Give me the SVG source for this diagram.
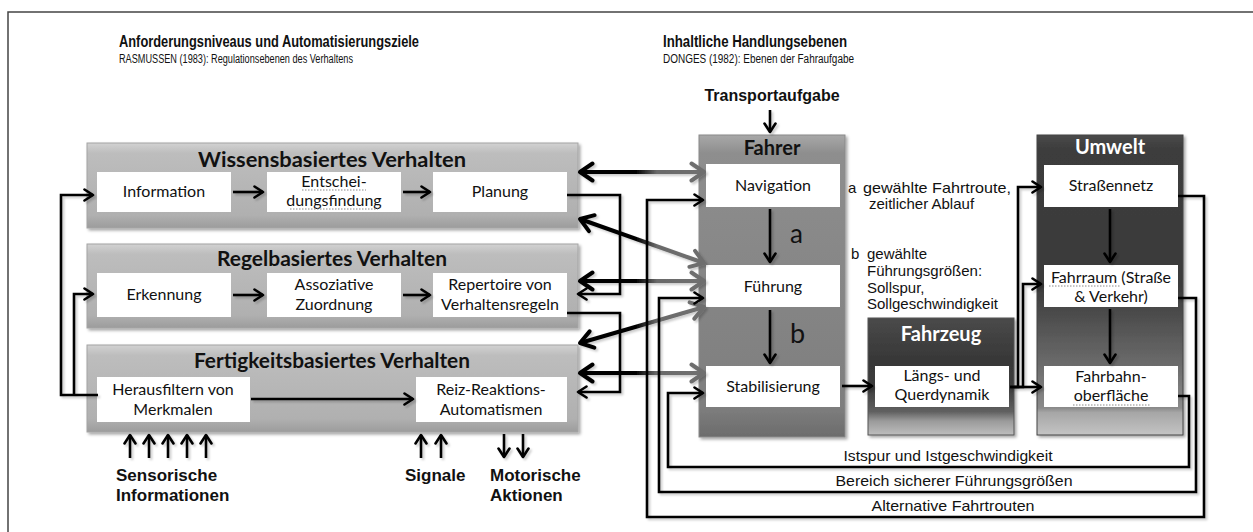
<svg xmlns="http://www.w3.org/2000/svg" width="1253" height="532" viewBox="0 0 1253 532">
<style>
.ttl{font-family:"Liberation Sans",Arial,sans-serif;font-weight:bold;fill:#111}
.sub{font-family:"Liberation Sans",Arial,sans-serif;fill:#111}
.bt{font-family:Lato,"Open Sans",sans-serif;font-weight:bold;font-size:20px;fill:#111;text-anchor:middle}
.bw{font-family:Lato,"Open Sans",sans-serif;font-weight:bold;font-size:20px;fill:#fff;text-anchor:middle}
.it{font-family:Lato,"Open Sans",sans-serif;font-size:16px;fill:#111;text-anchor:middle}
.ann{font-family:"Liberation Sans",Arial,sans-serif;font-size:15px;fill:#111}
.lab{font-family:"Liberation Sans",Arial,sans-serif;font-size:15px;fill:#111;text-anchor:middle}
.big{font-family:"Liberation Sans",Arial,sans-serif;font-weight:bold;font-size:17px;fill:#111}
.ib{fill:#fff}
.ln{fill:none;stroke:#000;stroke-width:2.6;stroke-linejoin:miter}
.thk{fill:none;stroke:url(#gArr);stroke-width:4}
.sq{fill:none;stroke:#888;stroke-width:1;stroke-dasharray:1.5 1.5}
</style>
<defs>
<linearGradient id="gR" x1="0" y1="0" x2="0" y2="1">
<stop offset="0" stop-color="#d2d2d2"/><stop offset="0.12" stop-color="#bdbdbd"/><stop offset="0.85" stop-color="#b0b0b0"/><stop offset="1" stop-color="#9c9c9c"/>
</linearGradient>
<linearGradient id="gF" x1="0" y1="0" x2="0" y2="1">
<stop offset="0" stop-color="#a8a8a8"/><stop offset="0.06" stop-color="#8e8e8e"/><stop offset="0.9" stop-color="#7e7e7e"/><stop offset="1" stop-color="#6c6c6c"/>
</linearGradient>
<linearGradient id="gZ" x1="0" y1="0" x2="0" y2="1">
<stop offset="0" stop-color="#4a4a4a"/><stop offset="0.35" stop-color="#383838"/><stop offset="0.6" stop-color="#3c3c3c"/><stop offset="0.8" stop-color="#606060"/><stop offset="0.88" stop-color="#9a9a9a"/><stop offset="1" stop-color="#bdbdbd"/>
</linearGradient>
<linearGradient id="gU" x1="0" y1="0" x2="0" y2="1">
<stop offset="0" stop-color="#4a4a4a"/><stop offset="0.05" stop-color="#3c3c3c"/><stop offset="0.5" stop-color="#3a3a3a"/><stop offset="0.76" stop-color="#6a6a6a"/><stop offset="0.91" stop-color="#8a8a8a"/><stop offset="0.925" stop-color="#a6a6a6"/><stop offset="1" stop-color="#c4c4c4"/>
</linearGradient>
<linearGradient id="gArr" gradientUnits="userSpaceOnUse" x1="580" y1="0" x2="704" y2="0">
<stop offset="0.45" stop-color="#000"/><stop offset="0.62" stop-color="#6a6a6a"/><stop offset="1" stop-color="#707070"/>
</linearGradient>
<filter id="sh" x="-5%" y="-5%" width="112%" height="115%">
<feDropShadow dx="2" dy="2" stdDeviation="1.5" flood-color="#000" flood-opacity="0.35"/>
</filter>
<filter id="lsh" x="-5%" y="-5%" width="110%" height="110%">
<feDropShadow dx="2" dy="2" stdDeviation="0.8" flood-color="#000" flood-opacity="0.2"/>
</filter>
<marker id="ah" viewBox="0 0 12 14" refX="10" refY="7" markerWidth="12" markerHeight="14" markerUnits="userSpaceOnUse" orient="auto-start-reverse">
<path d="M1.5,1.5 L10,7 L1.5,12.5" fill="none" stroke="#000" stroke-width="2.6" stroke-linecap="round" stroke-linejoin="round"/>
</marker>
<marker id="ahB" viewBox="0 0 18 22" refX="15" refY="11" markerWidth="18" markerHeight="22" markerUnits="userSpaceOnUse" orient="auto-start-reverse">
<path d="M2.5,2.5 L15,11 L2.5,19.5" fill="none" stroke="#000" stroke-width="4" stroke-linecap="round" stroke-linejoin="round"/>
</marker>
<marker id="ahG" viewBox="0 0 18 22" refX="15" refY="11" markerWidth="18" markerHeight="22" markerUnits="userSpaceOnUse" orient="auto-start-reverse">
<path d="M2.5,2.5 L15,11 L2.5,19.5" fill="none" stroke="#6e6e6e" stroke-width="4" stroke-linecap="round" stroke-linejoin="round"/>
</marker>
</defs>

<rect width="1253" height="532" fill="#fff"/>
<path d="M8,532 V12 H1253" fill="none" stroke="#444" stroke-width="1.5"/>

<g id="headings">
<text class="ttl" x="119" y="47" font-size="16.5" textLength="300" lengthAdjust="spacingAndGlyphs">Anforderungsniveaus und Automatisierungsziele</text>
<text class="sub" x="119" y="63" font-size="12" textLength="234" lengthAdjust="spacingAndGlyphs">RASMUSSEN (1983): Regulationsebenen des Verhaltens</text>
<text class="ttl" x="663" y="47" font-size="16.5" textLength="184" lengthAdjust="spacingAndGlyphs">Inhaltliche Handlungsebenen</text>
<text class="sub" x="663" y="63" font-size="12" textLength="191" lengthAdjust="spacingAndGlyphs">DONGES (1982): Ebenen der Fahraufgabe</text>
</g>

<g id="wissensbasiert">
<rect x="87" y="143" width="491" height="85" fill="url(#gR)" stroke="#a4a4a4" filter="url(#sh)"/>
<text class="bt" x="332" y="167" textLength="268" lengthAdjust="spacingAndGlyphs">Wissensbasiertes Verhalten</text>
<rect class="ib" x="97" y="172" width="134" height="40"/>
<text class="it" x="164" y="197">Information</text>
<rect class="ib" x="267" y="172" width="134" height="40"/>
<text class="it" x="334" y="187">Entschei-</text>
<text class="it" x="334" y="206">dungsfindung</text>
<path class="sq" d="M302,190 H366 M290,209 H378"/>
<rect class="ib" x="433" y="172" width="134" height="40"/>
<text class="it" x="500" y="197">Planung</text>
</g>

<g id="regelbasiert">
<rect x="87" y="244" width="491" height="84" fill="url(#gR)" stroke="#a4a4a4" filter="url(#sh)"/>
<text class="bt" x="332" y="266" textLength="230" lengthAdjust="spacingAndGlyphs">Regelbasiertes Verhalten</text>
<rect class="ib" x="97" y="273" width="134" height="44"/>
<text class="it" x="164" y="300">Erkennung</text>
<rect class="ib" x="267" y="273" width="134" height="44"/>
<text class="it" x="334" y="290">Assoziative</text>
<text class="it" x="334" y="310">Zuordnung</text>
<rect class="ib" x="433" y="273" width="134" height="44"/>
<text class="it" x="500" y="290">Repertoire von</text>
<text class="it" x="500" y="310">Verhaltensregeln</text>
</g>

<g id="fertigkeitsbasiert">
<rect x="87" y="345" width="491" height="87" fill="url(#gR)" stroke="#a4a4a4" filter="url(#sh)"/>
<text class="bt" x="332" y="368" textLength="276" lengthAdjust="spacingAndGlyphs">Fertigkeitsbasiertes Verhalten</text>
<rect class="ib" x="97" y="377" width="153" height="45"/>
<text class="it" x="173" y="395">Herausfiltern von</text>
<text class="it" x="173" y="415">Merkmalen</text>
<rect class="ib" x="416" y="377" width="151" height="45"/>
<text class="it" x="491" y="395">Reiz-Reaktions-</text>
<text class="it" x="491" y="415">Automatismen</text>
</g>

<g id="fahrer">
<rect x="699" y="135" width="146" height="302" fill="url(#gF)" stroke="#8a8a8a" filter="url(#sh)"/>
<text class="bt" x="772" y="155">Fahrer</text>
<rect class="ib" x="706" y="164" width="134" height="43"/>
<text class="it" x="773" y="191">Navigation</text>
<rect class="ib" x="706" y="265" width="134" height="42"/>
<text class="it" x="773" y="292">Führung</text>
<rect class="ib" x="706" y="366" width="134" height="41"/>
<text class="it" x="773" y="392">Stabilisierung</text>
<text x="790" y="243" font-family="Lato,'Open Sans',sans-serif" font-size="26" fill="#111">a</text>
<text x="790" y="343" font-family="Lato,'Open Sans',sans-serif" font-size="27" fill="#111">b</text>
</g>

<g id="fahrzeug">
<rect x="868" y="318" width="146" height="117" fill="url(#gZ)" stroke="#555" filter="url(#sh)"/>
<text class="bw" x="941" y="341">Fahrzeug</text>
<rect class="ib" x="875" y="366" width="134" height="41"/>
<text class="it" x="942" y="381">Längs- und</text>
<text class="it" x="942" y="400">Querdynamik</text>
</g>

<g id="umwelt">
<rect x="1037" y="135" width="146" height="300" fill="url(#gU)" stroke="#444" filter="url(#sh)"/>
<text class="bw" x="1110" y="154">Umwelt</text>
<rect class="ib" x="1044" y="165" width="134" height="42"/>
<text class="it" x="1111" y="191">Straßennetz</text>
<rect class="ib" x="1044" y="265" width="134" height="42"/>
<text class="it" x="1111" y="283">Fahrraum (Straße</text>
<text class="it" x="1111" y="302">&amp; Verkehr)</text>
<path class="sq" d="M1049,286 H1120"/>
<rect class="ib" x="1044" y="366" width="134" height="41"/>
<text class="it" x="1111" y="382">Fahrbahn-</text>
<text class="it" x="1111" y="401">oberfläche</text>
<path class="sq" d="M1073,405 H1150"/>
</g>

<g id="annotations">
<text class="ttl" x="772" y="101" font-size="16" text-anchor="middle">Transportaufgabe</text>
<text class="ann" x="848" y="193">a</text>
<text class="ann" x="863" y="193" textLength="148" lengthAdjust="spacingAndGlyphs">gewählte Fahrtroute,</text>
<text class="ann" x="869" y="209">zeitlicher Ablauf</text>
<text class="ann" x="851" y="259">b</text>
<text class="ann" x="867" y="259">gewählte</text>
<text class="ann" x="867" y="276">Führungsgrößen:</text>
<text class="ann" x="867" y="293">Sollspur,</text>
<text class="ann" x="867" y="309">Sollgeschwindigkeit</text>
<text class="lab" x="948" y="461" textLength="209" lengthAdjust="spacingAndGlyphs">Istspur und Istgeschwindigkeit</text>
<text class="lab" x="954" y="486" textLength="237" lengthAdjust="spacingAndGlyphs">Bereich sicherer Führungsgrößen</text>
<text class="lab" x="953" y="511" textLength="163" lengthAdjust="spacingAndGlyphs">Alternative Fahrtrouten</text>
<text class="big" x="116" y="481">Sensorische</text>
<text class="big" x="116" y="501">Informationen</text>
<text class="big" x="405" y="481">Signale</text>
<text class="big" x="490" y="481">Motorische</text>
<text class="big" x="490" y="501">Aktionen</text>
</g>

<g id="connectors" filter="url(#lsh)">
<path class="ln" d="M233,192 H263" marker-end="url(#ah)"/>
<path class="ln" d="M403,192 H430" marker-end="url(#ah)"/>
<path class="ln" d="M233,295 H263" marker-end="url(#ah)"/>
<path class="ln" d="M403,295 H430" marker-end="url(#ah)"/>
<path class="ln" d="M251,399 H413" marker-end="url(#ah)"/>
<path class="ln" d="M98,395 H61 V195 H93" marker-end="url(#ah)"/>
<path class="ln" d="M74,395 V294 H93" marker-end="url(#ah)"/>
<path class="thk" d="M580,172 L704,172.01" marker-start="url(#ahB)" marker-end="url(#ahG)"/>
<path class="thk" d="M580,219 L704,263" marker-start="url(#ahB)" marker-end="url(#ahG)"/>
<path class="thk" d="M580,281 L704,281.01" marker-start="url(#ahB)" marker-end="url(#ahG)"/>
<path class="thk" d="M580,343 L704,307" marker-start="url(#ahB)" marker-end="url(#ahG)"/>
<path class="thk" d="M580,373 L704,373.01" marker-start="url(#ahB)" marker-end="url(#ahG)"/>
<path class="ln" d="M567,195 H620 V294 H578" marker-end="url(#ah)"/>
<path class="ln" d="M567,313 H620 V392 H578" marker-end="url(#ah)"/>
<path class="ln" d="M770,110 V132" marker-end="url(#ah)"/>
<path class="ln" d="M770,209 V262" marker-end="url(#ah)"/>
<path class="ln" d="M770,310 V363" marker-end="url(#ah)"/>
<path class="ln" d="M842,386 H872" marker-end="url(#ah)"/>
<path class="ln" d="M1010,387 H1041" marker-end="url(#ah)"/>
<path class="ln" d="M1010,387 H1018 V187 H1041" marker-end="url(#ah)"/>
<path class="ln" d="M1014,387 H1023 V284 H1041" marker-end="url(#ah)"/>
<path class="ln" d="M1110,209 V262" marker-end="url(#ah)"/>
<path class="ln" d="M1110,309 V363" marker-end="url(#ah)"/>
<path class="ln" d="M1178,196 H1204 V517 H647 V200 H703" marker-end="url(#ah)"/>
<path class="ln" d="M1178,298 H1196 V492 H659 V298 H703" marker-end="url(#ah)"/>
<path class="ln" d="M1178,396 H1189 V467 H668 V393 H703" marker-end="url(#ah)"/>
<path class="ln" d="M130,458 V435" marker-end="url(#ah)"/>
<path class="ln" d="M149,458 V435" marker-end="url(#ah)"/>
<path class="ln" d="M168,458 V435" marker-end="url(#ah)"/>
<path class="ln" d="M187,458 V435" marker-end="url(#ah)"/>
<path class="ln" d="M206,458 V435" marker-end="url(#ah)"/>
<path class="ln" d="M421,458 V435" marker-end="url(#ah)"/>
<path class="ln" d="M441,458 V435" marker-end="url(#ah)"/>
<path class="ln" d="M504,434 V457" marker-end="url(#ah)"/>
<path class="ln" d="M523,434 V457" marker-end="url(#ah)"/>
</g>
</svg>
